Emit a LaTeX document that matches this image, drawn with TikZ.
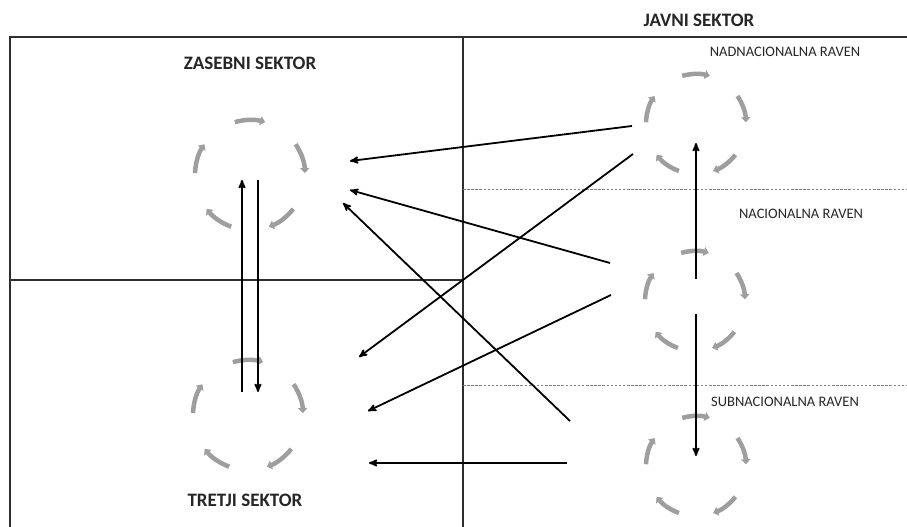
\documentclass[tikz,border=0pt]{standalone}
\usepackage{fontspec}
\setmainfont{Carlito}
\usepackage{tikz}
\usetikzlibrary{arrows,arrows.meta,positioning,calc}
\definecolor{ringgray}{gray}{0.62}
\definecolor{framegray}{gray}{0.18}

% five clockwise arcs round a centre
\newcommand{\ringcycle}[2]{%
  \foreach \a in {90,18,-54,-126,-198}
    \draw[ringarc] ($(#1)+(\a+16:#2pt)$) arc[start angle=\a+16, end angle=\a-16, radius=#2pt];
}

\begin{document}
\begin{tikzpicture}[->,>=stealth',x=1pt,y=1pt,line width=1.8pt]
  \tikzstyle{frame}=[-,draw=framegray,line width=1.8pt]
  \tikzstyle{level}=[-,draw=gray,line width=0.8pt,dash pattern=on 2.5pt off 1.6pt]
  \tikzstyle{ringarc}=[draw=ringgray,line width=4.5pt,-{Triangle[width=9pt,length=5pt]}]
  \tikzstyle{sector}=[font=\bfseries\fontsize{19}{22}\selectfont,text=black!85]
  \tikzstyle{tier}=[font=\fontsize{14.5}{17}\selectfont,text=black!85]

  \useasboundingbox (0,0) rectangle (907,527);

  % frame and sector borders
  \draw[frame] (10,0) -- (10,490) -- (907,490);
  \draw[frame] (463,0) -- (463,490);
  \draw[frame] (10,247) -- (463,247);
  \draw[level] (463,338) -- (907,338);
  \draw[level] (463,142) -- (907,142);

  % labels
  \node[sector] (javni)   at (699,507) {JAVNI SEKTOR};
  \node[sector] (zasebni) at (250,464) {ZASEBNI SEKTOR};
  \node[sector] (tretji)  at (245,27)  {TRETJI SEKTOR};
  \node[tier]   (nadnac)  at (785,475) {NADNACIONALNA RAVEN};
  \node[tier]   (nac)     at (801,313) {NACIONALNA RAVEN};
  \node[tier]   (subnac)  at (785,125) {SUBNACIONALNA RAVEN};

  % ring centres
  \coordinate (Zs) at (250,352);
  \coordinate (Tr) at (248,112);
  \coordinate (Nd) at (696,403);
  \coordinate (Nc) at (695,226);
  \coordinate (Sb) at (696,61);

  \ringcycle{Zs}{55}
  \ringcycle{Tr}{55}
  \ringcycle{Nd}{50}
  \ringcycle{Nc}{50}
  \ringcycle{Sb}{50}

  % arrow ends
  \coordinate (Nd1) at (632,401);
  \coordinate (Nd2) at (633,373);
  \coordinate (Nc1) at (610,264);
  \coordinate (Nc2) at (611,232);
  \coordinate (Sb1) at (570,106);
  \coordinate (Sb2) at (567,64);
  \coordinate (Zs1) at (350,366);
  \coordinate (Zs2) at (350,337);
  \coordinate (Zs3) at (343,324);
  \coordinate (Tr1) at (359,170);
  \coordinate (Tr2) at (368,116);
  \coordinate (Tr3) at (369,64);
  \coordinate (ZsA) at (242,347);
  \coordinate (ZsB) at (258,347);
  \coordinate (TrA) at (242,135);
  \coordinate (TrB) at (258,135);
  \coordinate (NdA) at (696,384);
  \coordinate (NcA) at (696,248);
  \coordinate (NcB) at (696,213);
  \coordinate (SbA) at (696,71);

  \path
  (Nd1) edge (Zs1)
  (Nd2) edge (Tr1)
  (Nc1) edge (Zs2)
  (Nc2) edge (Tr2)
  (Sb1) edge (Zs3)
  (Sb2) edge (Tr3)
  (TrA) edge (ZsA)
  (ZsB) edge (TrB)
  (NcA) edge (NdA)
  (NcB) edge (SbA)
  ;
\end{tikzpicture}
\end{document}
